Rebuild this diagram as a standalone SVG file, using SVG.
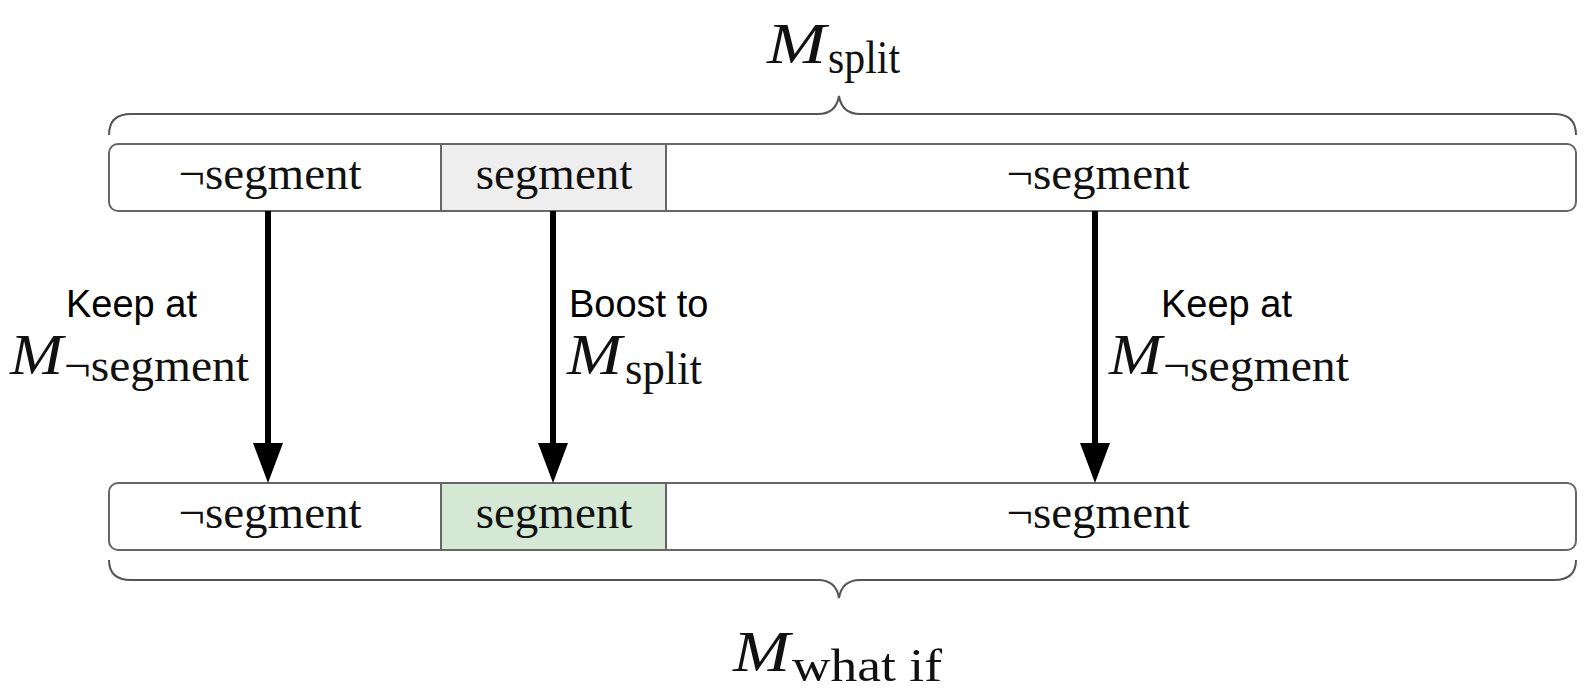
<svg xmlns="http://www.w3.org/2000/svg" width="1588" height="689" viewBox="0 0 1588 689">
<defs>
<style>
.bar{fill:#ffffff;stroke:#666666;stroke-width:2}
.seg{stroke:#666666;stroke-width:2}
.brace{fill:none;stroke:#555555;stroke-width:2}
.cm{font-family:"Liberation Serif","DejaVu Serif",serif;font-size:47px;fill:#111111}
.mi{font-family:"Liberation Serif","DejaVu Serif",serif;font-style:italic;font-size:58px;fill:#111111}
.sub{font-family:"Liberation Serif","DejaVu Serif",serif;font-size:46px;fill:#111111}
.lbl{font-family:"Liberation Sans",Arial,sans-serif;font-size:38px;fill:#000000}
.arr{stroke:#000000;stroke-width:6;fill:none}
</style>
<marker id="ah" markerUnits="userSpaceOnUse" markerWidth="40" markerHeight="30" refX="20" refY="15" orient="auto" viewBox="0 0 40 30">
<path d="M0,0 L40,15 L0,30 Z" fill="#000000"/>
</marker>
</defs>

<g id="brace-top">
<path class="brace" d="M109,135 Q109,114 131,114 L818,114 Q836,114 839,96 Q842,114 860,114 L1554,114 Q1576,114 1576,135"/>
<text class="mi" x="767" y="63" textLength="59" lengthAdjust="spacingAndGlyphs">M</text>
<text class="sub" x="828" y="73" textLength="72" lengthAdjust="spacingAndGlyphs">split</text>
</g>

<g id="top-bar">
<rect class="bar" x="109" y="144" width="1467" height="67" rx="9"/>
<rect class="seg" x="441" y="144" width="225" height="67" fill="#eeeeee"/>
<text class="cm" x="270" y="189" text-anchor="middle">¬segment</text>
<text class="cm" x="554" y="189" text-anchor="middle">segment</text>
<text class="cm" x="1098" y="189" text-anchor="middle">¬segment</text>
</g>

<g id="bottom-bar">
<rect class="bar" x="109" y="483" width="1467" height="67" rx="9"/>
<rect class="seg" x="441" y="483" width="225" height="67" fill="#d5e8d4"/>
<text class="cm" x="270" y="528" text-anchor="middle">¬segment</text>
<text class="cm" x="554" y="528" text-anchor="middle">segment</text>
<text class="cm" x="1098" y="528" text-anchor="middle">¬segment</text>
</g>

<g id="brace-bottom">
<path class="brace" d="M109,560 Q109,580 131,580 L818,580 Q836,580 839,598 Q842,580 860,580 L1554,580 Q1576,580 1576,560"/>
<text class="mi" x="733" y="671" textLength="57" lengthAdjust="spacingAndGlyphs">M</text>
<text class="sub" x="792" y="681" textLength="150" lengthAdjust="spacingAndGlyphs">what if</text>
</g>

<g id="connectors">
<line class="arr" x1="268" y1="211" x2="268" y2="463" marker-end="url(#ah)"/>
<line class="arr" x1="553" y1="211" x2="553" y2="463" marker-end="url(#ah)"/>
<line class="arr" x1="1095" y1="211" x2="1095" y2="463" marker-end="url(#ah)"/>
</g>

<g id="label-left">
<text class="lbl" x="66" y="317">Keep at</text>
<text class="mi" x="10" y="374" textLength="53" lengthAdjust="spacingAndGlyphs">M</text>
<text class="sub" x="64" y="381" textLength="185" lengthAdjust="spacingAndGlyphs">¬segment</text>
</g>

<g id="label-middle">
<text class="lbl" x="569" y="317">Boost to</text>
<text class="mi" x="567" y="374" textLength="55" lengthAdjust="spacingAndGlyphs">M</text>
<text class="sub" x="625" y="384" textLength="77" lengthAdjust="spacingAndGlyphs">split</text>
</g>

<g id="label-right">
<text class="lbl" x="1161" y="317">Keep at</text>
<text class="mi" x="1109" y="374" textLength="53" lengthAdjust="spacingAndGlyphs">M</text>
<text class="sub" x="1163" y="381" textLength="186" lengthAdjust="spacingAndGlyphs">¬segment</text>
</g>
</svg>
